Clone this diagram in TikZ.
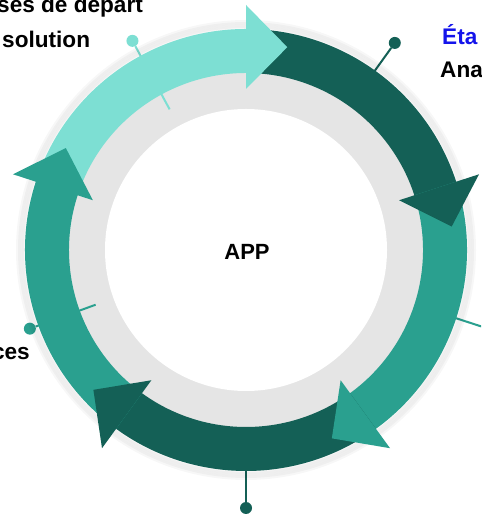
\documentclass[tikz,border=0pt]{standalone}
\usepackage{fontspec}
\setmainfont{Liberation Sans}
\definecolor{tealLight}{RGB}{125,223,211}
\definecolor{tealMid}{RGB}{42,160,143}
\definecolor{tealDark}{RGB}{20,96,86}
\definecolor{ringGray}{RGB}{229,229,229}
\definecolor{stepBlue}{RGB}{20,20,235}
\tikzstyle{pindot} = [circle, inner sep=0pt, minimum size=12pt]
\tikzstyle{pinline} = [draw, line width=2pt]
\tikzstyle{caption} = [font=\fontsize{22.6}{27}\selectfont\bfseries, inner sep=0pt, text=black]

\begin{document}
\begin{tikzpicture}[x=1pt, y=1pt]

	\path [fill=white, use as bounding box] (0,0) rectangle (481,518);
	\clip (0,0) rectangle (481,518);

	\begin{scope}[shift={(246,268)}]
		\fill [ringGray] (0,0) circle (181pt);
		\fill [white] (0,0) circle (141pt);

		\foreach \a/\r/\s/\c [count=\i] in {118.5/238/160/tealLight, 54.3/255/215/tealDark, -18/258/215/tealMid, -90/258/215/tealDark, 200/230/160/tealMid}{
			\coordinate (foot\i) at (\a:\s pt);
			\node [pindot, fill=\c] (dot\i) at (\a:\r pt) {};
			\path [pinline, \c] (foot\i) -- (dot\i);
		}

		\foreach \k in {222,224,226,228}
			\draw [black, opacity=0.03, line width=4pt] (0,0) circle (\k pt);

		\foreach \b/\c in {90/tealLight, 18/tealDark, -54/tealMid, -126/tealDark, -198/tealMid}
			\fill [\c] (\b+72:221pt) arc [start angle=\b+72, end angle=\b-2, radius=221pt]
				-- (\b-2:177pt) arc [start angle=\b-2, end angle=\b+72, radius=177pt] -- cycle;

		\foreach \b/\c in {90/tealLight, 18/tealDark, -54/tealMid, -126/tealDark, -198/tealMid}
			\fill [\c] (\b:245pt) -- (\b-11.5:207pt) -- (\b:161pt) -- cycle;
	\end{scope}

	\node [caption, anchor=base west] (hyp1) at (-3,505) {ses de départ};
	\node [caption, anchor=base west] (hyp2) at (2,470) {solution};
	\node [caption, anchor=base west, text=stepBlue] (etape1) at (442,473) {Éta};
	\node [caption, anchor=base west] (ana1) at (440,440) {Ana};
	\node [caption, anchor=base east] (conn1) at (30,158) {ces};
	\node [caption, font=\fontsize{22}{26}\selectfont\bfseries] (app) at (247,266) {APP};
\end{tikzpicture}
\end{document}
